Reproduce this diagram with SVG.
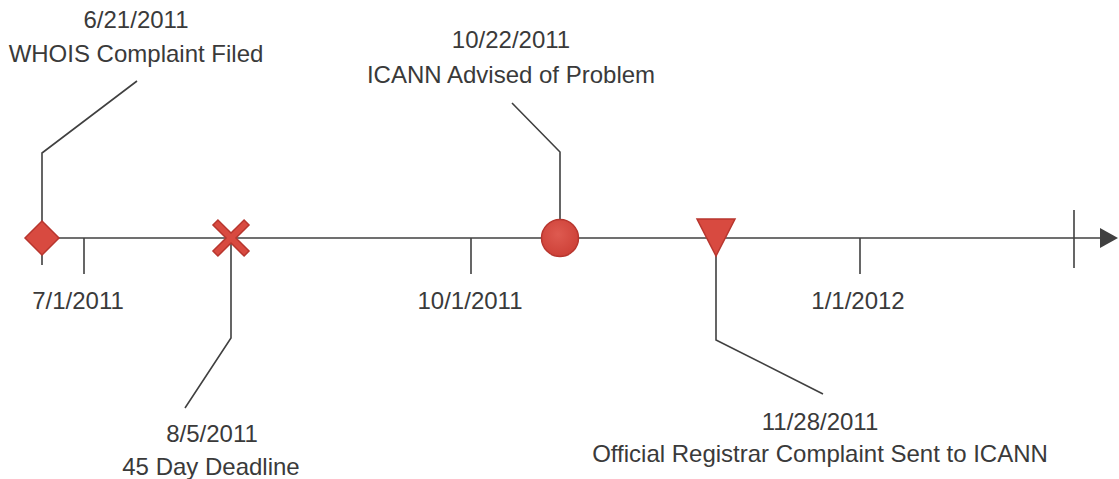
<svg xmlns="http://www.w3.org/2000/svg" width="1119" height="479" viewBox="0 0 1119 479">
<defs>
<style>
.ln{stroke:#404040;stroke-width:1.6;fill:none}
.tx{font-family:"Liberation Sans",Arial,sans-serif;font-size:24px;fill:#3a3a3a;text-anchor:middle}
.mk{fill:#d84a40;stroke:#b8362e;stroke-width:1.5}
</style>
<radialGradient id="cg" cx="0.45" cy="0.4" r="0.65">
<stop offset="0" stop-color="#de5a50"/>
<stop offset="1" stop-color="#cc3f36"/>
</radialGradient>
</defs>
<rect width="1119" height="479" fill="#ffffff"/>
<g id="connectors">
<line class="ln" x1="42" y1="238" x2="1102" y2="238"/>
<polygon points="1100,228 1118,238 1100,248" fill="#404040"/>
<line class="ln" x1="1074" y1="210" x2="1074" y2="268"/>
<line class="ln" x1="84" y1="238" x2="84" y2="274"/>
<line class="ln" x1="471" y1="238" x2="471" y2="274"/>
<line class="ln" x1="860" y1="238" x2="860" y2="274"/>
<polyline class="ln" points="137,81 42,153 42,265"/>
<polyline class="ln" points="512,103 560,152 560,238"/>
<polyline class="ln" points="231,238 231,338 185,408"/>
<polyline class="ln" points="716,238 716,340 823,394"/>
</g>
<g id="tick-labels">
<text class="tx" x="78" y="309">7/1/2011</text>
<text class="tx" x="470" y="309">10/1/2011</text>
<text class="tx" x="858" y="309">1/1/2012</text>
</g>
<g id="whois">
<polygon class="mk" points="42,221 59,238 42,255 25,238"/>
<text class="tx" x="136" y="28">6/21/2011</text>
<text class="tx" x="136" y="62">WHOIS Complaint Filed</text>
</g>
<g id="deadline">
<polygon class="mk" transform="translate(231,238) rotate(45)" points="-3.5,-22 3.5,-22 3.5,-3.5 22,-3.5 22,3.5 3.5,3.5 3.5,22 -3.5,22 -3.5,3.5 -22,3.5 -22,-3.5 -3.5,-3.5"/>
<text class="tx" x="212" y="442">8/5/2011</text>
<text class="tx" x="211" y="475">45 Day Deadline</text>
</g>
<g id="icann-advised">
<circle cx="560" cy="238" r="18.5" fill="url(#cg)" stroke="#b8362e" stroke-width="1.5"/>
<text class="tx" x="511" y="48">10/22/2011</text>
<text class="tx" x="511" y="83">ICANN Advised of Problem</text>
</g>
<g id="official-complaint">
<polygon class="mk" points="697,219 735,219 716,256"/>
<text class="tx" x="820" y="430">11/28/2011</text>
<text class="tx" x="820" y="462">Official Registrar Complaint Sent to ICANN</text>
</g>
</svg>
